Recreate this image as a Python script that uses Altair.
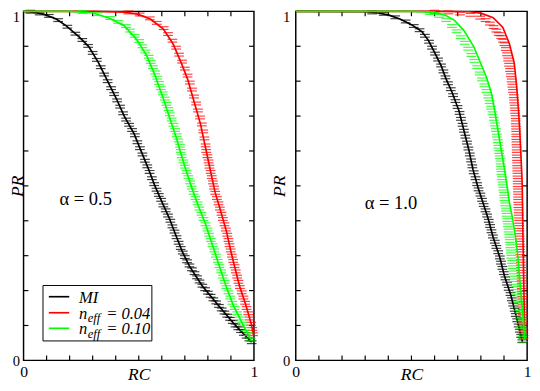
import altair as alt
import pandas as pd

FONT = "Liberation Serif"
H = 359
W_LEFT, W_RIGHT = 237, 238

SERIES = ["MI", "0.04", "0.10"]
COLORS = ["#000000", "#ff0000", "#00ff00"]
TICKS = [0.1, 0.2, 0.3, 0.4, 0.5, 0.6, 0.7, 0.8, 0.9]
AXIS_LABELS = [0, 1]
PR_ERR = 0.004

# ---------------- left panel (alpha = 0.5) ----------------
L_MI_LINE_X = [0, .04, .086, .142, .184, .241, .283, .325, .367, .402, .437, .48, .508, .543, .57, .6, .634, .66, .69, .72, .775, .845, .916, .99]
L_MI_LINE_Y = [1, .998, .992, .978, .959, .927, .899, .853, .797, .751, .7, .649, .603, .547, .5, .455, .405, .36, .31, .27, .214, .158, .103, .052]
L_R04_LINE_X = [0, .3, .44, .494, .55, .606, .648, .684, .712, .74, .768, .789, .81, .831, .852, .88, .902, .916, .937, .965, .989, .998]
L_R04_LINE_Y = [1, 1, .998, .992, .978, .95, .908, .853, .806, .742, .677, .612, .547, .482, .436, .371, .306, .269, .214, .158, .103, .07]
L_G10_LINE_X = [0, .2, .297, .367, .437, .494, .536, .571, .606, .634, .662, .684, .705, .73, .76, .79, .82, .85, .88, .91, .95, .99]
L_G10_LINE_Y = [1, 1, .996, .982, .959, .917, .871, .816, .751, .695, .64, .59, .545, .495, .44, .39, .33, .27, .21, .158, .105, .055]

L_MI_PTS_X = [.03, .07, .11, .15, .19, .225, .255, .28, .3, .318, .335, .35, .365, .38, .393, .406, .419, .432, .445, .458, .471, .483, .494, .505, .516, .527, .537, .547, .557, .567, .577, .587, .597, .607, .617, .627, .637, .646, .655, .664, .673, .682, .691, .7, .71, .72, .731, .742, .753, .764, .776, .788, .8, .812, .824, .836, .848, .86, .872, .884, .896, .908, .92, .932, .944, .956, .968, .98, .99]
L_MI_PTS_Y = [.999, .994, .987, .975, .956, .936, .918, .901, .881, .861, .84, .819, .8, .78, .763, .745, .727, .708, .69, .675, .66, .645, .625, .608, .59, .572, .556, .54, .522, .505, .489, .474, .46, .444, .43, .415, .4, .384, .369, .353, .337, .322, .309, .296, .284, .272, .261, .25, .238, .226, .214, .204, .194, .185, .175, .166, .156, .146, .137, .128, .119, .11, .1, .092, .084, .076, .068, .06, .052]
L_R04_PTS_X = [.455, .504, .548, .578, .608, .627, .646, .662, .675, .688, .7, .712, .722, .731, .74, .749, .757, .766, .774, .78, .785, .79, .793, .798, .803, .807, .812, .817, .822, .827, .832, .839, .846, .852, .859, .865, .872, .878, .884, .889, .894, .899, .904, .91, .916, .921, .927, .933, .939, .947, .954, .962, .968, .975, .982, .988, .992, .996]
L_R04_PTS_Y = [.997, .991, .98, .967, .952, .935, .916, .896, .876, .856, .836, .816, .796, .776, .756, .736, .716, .696, .676, .656, .636, .616, .6, .585, .57, .555, .54, .525, .51, .495, .48, .465, .45, .435, .42, .405, .39, .375, .36, .345, .33, .315, .3, .285, .27, .255, .24, .225, .21, .195, .18, .165, .15, .135, .12, .105, .09, .075]
L_G10_PTS_X = [.256, .323, .376, .41, .444, .462, .482, .502, .516, .529, .543, .552, .562, .571, .58, .588, .596, .604, .613, .62, .628, .635, .643, .65, .658, .665, .672, .679, .682, .686, .693, .7, .708, .715, .723, .73, .738, .746, .755, .763, .772, .781, .79, .798, .805, .813, .82, .828, .835, .843, .85, .858, .865, .873, .88, .889, .897, .906, .916, .927, .939, .95, .962, .974, .986]
L_G10_PTS_Y = [.998, .992, .981, .97, .958, .945, .93, .915, .9, .885, .87, .855, .84, .825, .81, .795, .78, .765, .75, .735, .72, .705, .69, .675, .66, .645, .63, .615, .6, .585, .57, .555, .54, .525, .51, .495, .48, .465, .45, .435, .42, .405, .39, .375, .36, .345, .33, .315, .3, .285, .27, .255, .24, .225, .21, .195, .18, .165, .15, .135, .12, .105, .09, .075, .06]

# ---------------- right panel (alpha = 1.0) ----------------
R_MI_LINE_X = [0, .3, .349, .4, .45, .5, .545, .573, .601, .629, .65, .675, .706, .727, .748, .766, .79, .81, .832, .853, .881, .902, .93, .951, .972, .98]
R_MI_LINE_Y = [1, .999, .996, .99, .978, .962, .942, .917, .881, .843, .806, .769, .714, .658, .603, .547, .49, .45, .405, .353, .297, .242, .186, .131, .075, .052]
R_R04_LINE_X = [0, .6, .75, .8, .853, .895, .923, .944, .954, .962, .968, .972, .976, .979, .982, .986, .99]
R_R04_LINE_Y = [1, 1, .999, .995, .982, .954, .908, .853, .79, .723, .658, .603, .547, .496, .35, .2, .06]
R_G10_LINE_X = [0, .5, .6, .643, .685, .727, .769, .797, .825, .846, .86, .874, .888, .902, .914, .924, .936, .948, .958, .967, .976, .984, .99]
R_G10_LINE_Y = [1, 1, .997, .99, .975, .945, .899, .855, .81, .765, .714, .658, .603, .547, .496, .45, .41, .36, .31, .24, .17, .11, .06]

R_MI_PTS_X = [.33, .38, .43, .475, .51, .535, .558, .576, .589, .602, .615, .628, .638, .647, .658, .67, .68, .69, .699, .708, .714, .721, .727, .733, .74, .746, .752, .758, .763, .769, .777, .784, .79, .798, .805, .812, .82, .827, .834, .84, .846, .852, .86, .867, .875, .882, .887, .893, .899, .906, .913, .92, .928, .934, .94, .946, .951, .957, .963, .968, .974, .979]
R_MI_PTS_Y = [.997, .993, .983, .971, .958, .946, .93, .913, .896, .879, .862, .845, .828, .811, .794, .777, .76, .743, .726, .709, .692, .675, .658, .641, .624, .607, .59, .573, .556, .539, .522, .505, .49, .475, .46, .445, .43, .415, .4, .385, .37, .355, .34, .325, .31, .295, .28, .265, .25, .235, .22, .205, .19, .175, .16, .145, .13, .115, .1, .085, .07, .055]
R_R04_PTS_X = [.6, .66, .71, .755, .797, .82, .839, .855, .867, .878, .888, .896, .902, .908, .913, .918, .922, .926, .93, .933, .936, .939, .942, .944, .946, .948, .95, .951, .952, .953, .953, .954, .955, .955, .956, .957, .957, .958, .959, .959, .96, .961, .961, .962, .963, .964, .965, .966, .967, .968, .969, .97, .971, .972, .973, .974, .975, .976, .977, .977, .978, .979, .98, .981, .982, .982, .983, .984, .985]
R_R04_PTS_Y = [.999, .997, .994, .99, .982, .975, .965, .955, .945, .935, .926, .916, .906, .892, .877, .862, .847, .832, .817, .802, .787, .772, .757, .742, .727, .712, .697, .682, .667, .652, .637, .622, .607, .592, .577, .562, .547, .532, .517, .502, .487, .472, .457, .442, .427, .412, .397, .382, .367, .352, .337, .322, .307, .292, .277, .262, .247, .232, .217, .202, .187, .172, .157, .142, .127, .112, .097, .082, .067]
R_G10_PTS_X = [.58, .62, .65, .675, .695, .713, .73, .745, .759, .772, .784, .795, .805, .815, .824, .832, .838, .844, .85, .856, .861, .865, .869, .873, .876, .879, .882, .885, .887, .889, .891, .894, .897, .9, .902, .905, .908, .911, .914, .917, .92, .923, .925, .927, .929, .931, .935, .938, .942, .946, .95, .953, .957, .96, .963, .965, .968, .971, .974, .976, .979, .981]
R_G10_PTS_Y = [.995, .987, .975, .958, .943, .926, .91, .893, .875, .858, .84, .822, .805, .788, .772, .756, .74, .724, .708, .692, .676, .66, .644, .628, .612, .597, .582, .567, .552, .537, .522, .507, .492, .477, .462, .447, .432, .417, .402, .387, .372, .357, .342, .327, .312, .297, .282, .267, .252, .237, .222, .207, .192, .177, .162, .147, .132, .117, .102, .087, .072, .057]

LEGEND_TEXT = ["MI", "n", "eff", "= 0.04", "= 0.10"]
ANNOTATIONS = ["\u03b1 = 0.5", "\u03b1 = 1.0"]

SCALE = alt.Scale(domain=[0, 1], nice=False, zero=False)
ONE = pd.DataFrame({"k": [0]})


def x_axis():
    return alt.Axis(values=AXIS_LABELS, format="d", ticks=False, domain=False, grid=False,
                    labelFlush=False, labelFontSize=16, labelPadding=4, labelColor="black", labelFont=FONT,
                    title="RC", titleFont=FONT, titleFontSize=18, titleFontStyle="italic",
                    titleFontWeight="normal", titleColor="black", titleY=6)


def y_axis(label_pad, title_x):
    return alt.Axis(values=AXIS_LABELS, format="d", ticks=False, domain=False, grid=False,
                    labelFlush=False, labelFontSize=15, labelPadding=label_pad, labelColor="black", labelFont=FONT,
                    labelOffset={"condition": {"test": "datum.value == 1", "value": 5.5}, "value": 0},
                    title="PR", titleFont=FONT, titleFontSize=18, titleFontStyle="italic",
                    titleFontWeight="normal", titleColor="black", titleX=title_x)


def panel(W, lines, pts, label_pad, title_x, annot, annot_xy, legend):
    X = lambda f: alt.X(f, type="quantitative", scale=SCALE, axis=x_axis())
    Y = lambda f: alt.Y(f, type="quantitative", scale=SCALE, axis=y_axis(label_pad, title_x))
    tdf = pd.DataFrame({"t": TICKS})
    layers = [
        alt.Chart(tdf).mark_rule(color="black", strokeWidth=1.2).encode(x=X("t"), y=alt.value(0), y2=alt.value(5)),
        alt.Chart(tdf).mark_rule(color="black", strokeWidth=1.2).encode(x=X("t"), y=alt.value(H - 5), y2=alt.value(H)),
        alt.Chart(tdf).mark_rule(color="black", strokeWidth=1.2).encode(y=Y("t"), x=alt.value(0), x2=alt.value(5)),
        alt.Chart(tdf).mark_rule(color="black", strokeWidth=1.2).encode(y=Y("t"), x=alt.value(W - 5), x2=alt.value(W)),
    ]
    for (lx, ly), (px, py), color in zip(lines, pts, COLORS):
        mdf = pd.DataFrame({"x": px, "y": py})
        mdf["lo"] = mdf["y"] - PR_ERR
        mdf["hi"] = mdf["y"] + PR_ERR
        ldf = pd.DataFrame({"x": lx, "y": ly, "i": range(len(lx))})
        layers += [
            alt.Chart(mdf).mark_tick(orient="horizontal", size=10, thickness=1.2, color=color, opacity=0.75).encode(x=X("x"), y=Y("hi")),
            alt.Chart(mdf).mark_tick(orient="horizontal", size=10, thickness=1.2, color=color, opacity=0.75).encode(x=X("x"), y=Y("lo")),
            alt.Chart(ldf).mark_line(strokeWidth=1.7, color=color).encode(x=X("x"), y=Y("y"), order="i"),
        ]
    layers.append(
        alt.Chart(ONE).mark_text(text=annot, font=FONT, fontSize=19, align="left", baseline="middle", color="black")
        .encode(x=alt.value(annot_xy[0]), y=alt.value(annot_xy[1]))
    )
    if legend:
        layers.append(alt.Chart(ONE).mark_rect(fill="white", stroke="black", strokeWidth=1)
                      .encode(x=alt.value(20), x2=alt.value(132), y=alt.value(282), y2=alt.value(339)))
        rows_line = [293.5, 310, 326]
        rows_base = [299.5, 316, 332]
        for color, ly in zip(COLORS, rows_line):
            layers.append(alt.Chart(ONE).mark_rule(color=color, strokeWidth=1.7)
                          .encode(x=alt.value(26), x2=alt.value(47), y=alt.value(ly)))
        txt = dict(font=FONT, fontStyle="italic", align="left", baseline="alphabetic", color="black")
        layers.append(alt.Chart(ONE).mark_text(text=LEGEND_TEXT[0], fontSize=17, **txt)
                      .encode(x=alt.value(57), y=alt.value(rows_base[0])))
        for rb, val in zip(rows_base[1:], LEGEND_TEXT[3:]):
            layers += [
                alt.Chart(ONE).mark_text(text=LEGEND_TEXT[1], fontSize=17, **txt).encode(x=alt.value(57), y=alt.value(rb)),
                alt.Chart(ONE).mark_text(text=LEGEND_TEXT[2], fontSize=13, **txt).encode(x=alt.value(66), y=alt.value(rb + 4)),
                alt.Chart(ONE).mark_text(text=val, fontSize=17, **txt).encode(x=alt.value(85), y=alt.value(rb)),
            ]
    return alt.layer(*layers).properties(width=W, height=H)


left = panel(W_LEFT,
             [(L_MI_LINE_X, L_MI_LINE_Y), (L_R04_LINE_X, L_R04_LINE_Y), (L_G10_LINE_X, L_G10_LINE_Y)],
             [(L_MI_PTS_X, L_MI_PTS_Y), (L_R04_PTS_X, L_R04_PTS_Y), (L_G10_PTS_X, L_G10_PTS_Y)],
             4, 3, ANNOTATIONS[0], (37, 193.5), True)
right = panel(W_RIGHT,
              [(R_MI_LINE_X, R_MI_LINE_Y), (R_R04_LINE_X, R_R04_LINE_Y), (R_G10_LINE_X, R_G10_LINE_Y)],
              [(R_MI_PTS_X, R_MI_PTS_Y), (R_R04_PTS_X, R_R04_PTS_Y), (R_G10_PTS_X, R_G10_PTS_Y)],
              6, -8, ANNOTATIONS[1], (71, 197.5), False)

chart = (alt.hconcat(left, right, spacing=11)
         .properties(padding={"left": 0, "top": -7, "right": 0, "bottom": 0}, background="white")
         .configure_view(stroke="black", strokeWidth=1.5))

chart.save("out.html", embed_options={"renderer": "svg", "actions": False})
